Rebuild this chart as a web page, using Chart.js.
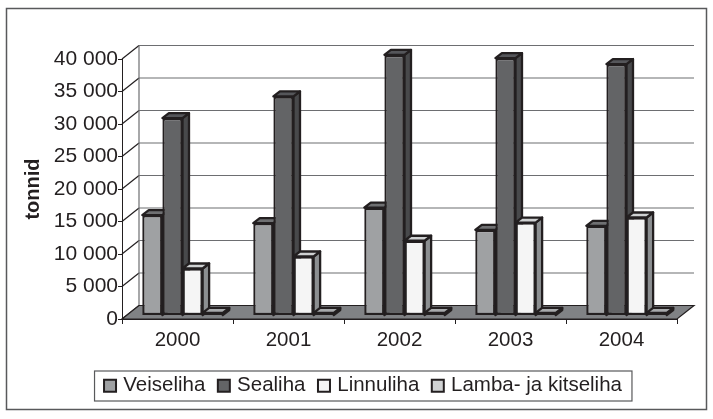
<!DOCTYPE html>
<html>
<head>
<meta charset="utf-8">
<title>Liha tootmine</title>
<script src="https://cdn.jsdelivr.net/npm/chart.js@4/dist/chart.umd.min.js"></script>
<style>
html, body { margin: 0; padding: 0; background: #fff; }
canvas { display: block; }
</style>
</head>
<body>
<canvas id="meatChart" width="713" height="419"></canvas>
<script>
const years = ['2000', '2001', '2002', '2003', '2004'];
const veiseliha = [15450, 14200, 16600, 13180, 13800];
const sealiha = [30370, 33700, 40100, 39600, 38680];
const linnuliha = [7230, 9080, 11500, 14300, 15080];
const lambaliha = [400, 400, 400, 400, 400];
const seriesNames = ['Veiseliha', 'Sealiha', 'Linnuliha', 'Lamba- ja kitseliha'];
const yTicks = [0, 5000, 10000, 15000, 20000, 25000, 30000, 35000, 40000];
const yTickLabels = ['0', '5 000', '10 000', '15 000', '20 000', '25 000', '30 000', '35 000', '40 000'];

const INK = '#231f20';
const GRID = '#6d6e71';
const WALL_DX = 17;      // how far the back wall sits from the front plane
const WALL_DY = 13.5;
const BAR_DX = 5;        // bars stand a little way into the floor
const BAR_DY = 3.5;
const DEPTH_DX = 6.5;    // depth of a bar itself
const DEPTH_DY = 5;
const SWATCH = 12;

const frontColors = ['#9fa1a3', '#636466', '#f5f5f5', '#d1d3d4'];
const sideColors = ['#6f7072', '#48494b', '#8c8f91', '#808285'];
const topColors = ['#6f7072', '#55565a', '#cfd1d2', '#a7a9ab'];

function poly(ctx, pts, fill) {
    ctx.beginPath();
    pts.forEach((p, i) => i ? ctx.lineTo(p[0], p[1]) : ctx.moveTo(p[0], p[1]));
    ctx.closePath();
    ctx.fillStyle = fill;
    ctx.fill();
    ctx.stroke();
}

/* =========================
   FRAME AND LEGEND BOX
========================= */
const framePlugin = {
    id: 'frame',
    afterDraw(chart) {
        const ctx = chart.ctx;
        const boxes = chart.legend.legendHitBoxes;
        const first = boxes[0];
        const last = boxes[boxes.length - 1];
        ctx.save();
        ctx.strokeStyle = '#58595b';
        ctx.lineWidth = 1.5;
        ctx.strokeRect(6.5, 8.5, 700, 401);
        ctx.lineWidth = 1.2;
        ctx.strokeRect(first.left - 9.5, 371, last.left + last.width - first.left + 19.5, 30);

        // legend swatches, the library's own sit too far from the text
        ctx.strokeStyle = INK;
        ctx.lineWidth = 2;
        boxes.forEach((b, i) => {
            ctx.fillStyle = frontColors[i];
            ctx.fillRect(b.left, b.top + (b.height - SWATCH) / 2, SWATCH, SWATCH);
            ctx.strokeRect(b.left, b.top + (b.height - SWATCH) / 2, SWATCH, SWATCH);
        });
        ctx.restore();
    }
};

/* =========================
   3D WALLS, FLOOR AND BARS
========================= */
const depthPlugin = {
    id: 'depth',
    beforeDatasetsDraw(chart) {
        const ctx = chart.ctx;
        const area = chart.chartArea;
        const yScale = chart.scales.y;

        ctx.save();
        ctx.lineWidth = 1.2;

        // back wall grid and the slanted lines on the left wall
        yTicks.forEach(v => {
            const y = yScale.getPixelForValue(v);
            ctx.strokeStyle = INK;
            ctx.beginPath();
            ctx.moveTo(area.left, y);
            ctx.lineTo(area.left + WALL_DX, y - WALL_DY);
            ctx.stroke();
            ctx.strokeStyle = GRID;
            ctx.beginPath();
            ctx.moveTo(area.left + WALL_DX, y - WALL_DY);
            ctx.lineTo(area.right + WALL_DX, y - WALL_DY);
            ctx.stroke();
        });
        ctx.strokeStyle = GRID;
        ctx.beginPath();
        ctx.moveTo(area.left + WALL_DX, yScale.getPixelForValue(40000) - WALL_DY);
        ctx.lineTo(area.left + WALL_DX, area.bottom - WALL_DY);
        ctx.stroke();

        // floor
        ctx.strokeStyle = INK;
        poly(ctx, [
            [area.left, area.bottom],
            [area.left + WALL_DX, area.bottom - WALL_DY],
            [area.right + WALL_DX, area.bottom - WALL_DY],
            [area.right, area.bottom]
        ], '#808285');

        // painted left to right, each bar hides the side of the one before
        ctx.translate(BAR_DX, -BAR_DY);
        years.forEach((year, i) => {
            seriesNames.forEach((name, d) => {
                const el = chart.getDatasetMeta(d).data[i];
                const p = el.getProps(['x', 'y', 'base', 'width'], true);
                const l = p.x - p.width / 2;
                const r = p.x + p.width / 2;
                ctx.lineWidth = 2.3;
                ctx.lineJoin = 'round';
                ctx.strokeStyle = INK;
                poly(ctx, [[r, p.y], [r + DEPTH_DX, p.y - DEPTH_DY], [r + DEPTH_DX, p.base - DEPTH_DY], [r, p.base]], sideColors[d]);
                poly(ctx, [[l, p.y], [l + DEPTH_DX, p.y - DEPTH_DY], [r + DEPTH_DX, p.y - DEPTH_DY], [r, p.y]], topColors[d]);
                el.draw(ctx);
            });
        });
        ctx.restore();
        return false;
    }
};

new Chart(document.getElementById('meatChart'), {
    type: 'bar',
    plugins: [depthPlugin, framePlugin],
    data: {
        labels: years,
        datasets: seriesNames.map((name, d) => ({
            label: name,
            data: [veiseliha, sealiha, linnuliha, lambaliha][d],
            backgroundColor: frontColors[d],
            borderColor: INK,
            borderWidth: 2.3,
            borderSkipped: false,
            categoryPercentage: 0.725,
            barPercentage: 1
        }))
    },
    options: {
        responsive: false,
        animation: false,
        layout: { padding: { left: 49, right: 36, top: 59, bottom: 13 } },
        plugins: {
            tooltip: { enabled: false },
            legend: {
                position: 'bottom',
                onClick: null,
                labels: {
                    color: INK,
                    boxWidth: 9,
                    boxHeight: 12,
                    padding: 12.5,
                    font: { family: '"Liberation Sans"', size: 20.5 },
                    generateLabels(chart) {
                        return Chart.defaults.plugins.legend.labels.generateLabels(chart).map(item => {
                            item.fillStyle = 'transparent';
                            item.strokeStyle = 'transparent';
                            return item;
                        });
                    }
                }
            }
        },
        scales: {
            x: {
                afterFit(scale) { scale.height = 44; },
                border: { color: INK, width: 1 },
                grid: { drawOnChartArea: false, color: INK, tickLength: 5 },
                ticks: {
                    color: INK,
                    padding: 4,
                    maxRotation: 0,
                    font: { family: '"Liberation Sans"', size: 20.5 }
                }
            },
            y: {
                min: 0,
                max: 40000,
                afterFit(scale) { scale.width = 73; },
                afterBuildTicks(scale) { scale.ticks = yTicks.map(v => ({ value: v })); },
                border: { color: INK, width: 1 },
                grid: { drawOnChartArea: false, color: INK, tickLength: 4 },
                ticks: {
                    color: INK,
                    padding: 0,
                    font: { family: '"Liberation Sans"', size: 21 },
                    callback: value => yTickLabels[yTicks.indexOf(value)]
                },
                title: {
                    display: true,
                    text: 'tonnid',
                    color: INK,
                    padding: { top: -28, bottom: 0 },
                    font: { family: '"Liberation Sans"', size: 20, weight: 'bold' }
                }
            }
        }
    }
});
</script>
</body>
</html>
